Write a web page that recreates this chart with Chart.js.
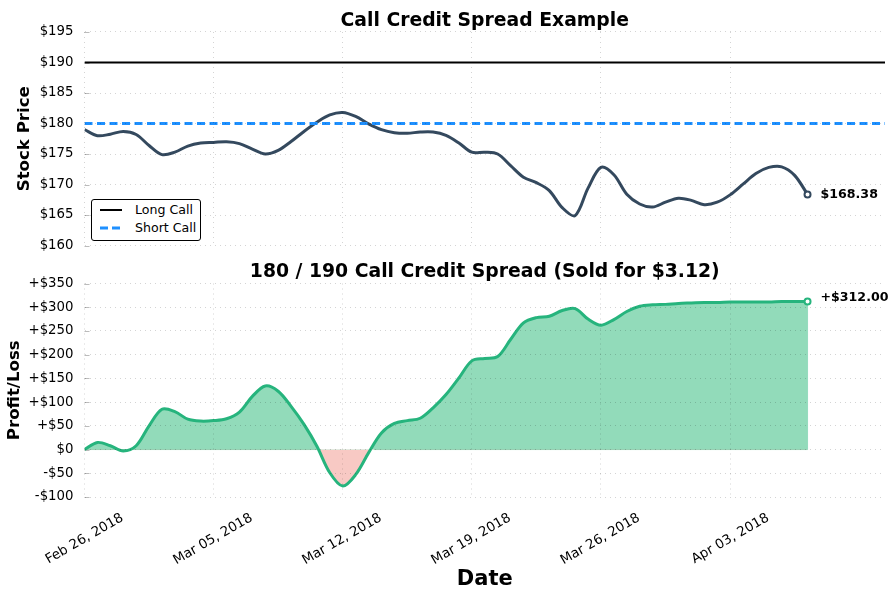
<!DOCTYPE html>
<html lang="en">
<head>
  <meta charset="UTF-8">
  <title>Call Credit Spread Example</title>
  <script src="https://cdn.jsdelivr.net/npm/chart.js"></script>
  <style>
    html, body { margin: 0; padding: 0; background: #fff; }
    #wrap { position: relative; width: 895px; height: 600px; overflow: hidden; font-family: "DejaVu Sans", sans-serif; }
    canvas { position: absolute; left: 0; }
    #legend { position: absolute; left: 90.5px; top: 198.5px; width: 108px; height: 40px; background: #fff; border: 1px solid #000; border-radius: 3px; font-size: 12.6px; color: #000; }
    #legend div { position: absolute; left: 43.5px; line-height: 14px; white-space: nowrap; }
    #legend svg { position: absolute; left: 8px; width: 24px; height: 4px; }
  </style>
</head>
<body>
<div id="wrap">
  <canvas id="priceChart" width="895" height="258" style="top:0"></canvas>
  <canvas id="pnlChart" width="895" height="342" style="top:258px"></canvas>
  <!-- legend sits inside the top plot -->
  <div id="legend">
    <svg style="top:8px"><line x1="0" y1="2" x2="22" y2="2" stroke="#000" stroke-width="2"/></svg>
    <div style="top:3px">Long Call</div>
    <svg style="top:26px"><line x1="0" y1="2" x2="20" y2="2" stroke="#1e90ff" stroke-width="3" stroke-dasharray="8 4"/></svg>
    <div style="top:21px">Short Call</div>
  </div>
</div>

<script>
  // x = trading day number, every half day
  const days = [0,0.5,1,1.5,2,2.5,3,3.5,4,4.5,5,5.5,6,6.5,7,7.5,8,8.5,9,9.5,10,10.5,11,11.5,12,12.5,13,13.5,14,14.5,15,15.5,16,16.5,17,17.5,18,18.5,19,19.5,20,20.5,21,21.5,22,22.5,23,23.5,24,24.5,25,25.5,26,26.5,27,27.5,28];
  const stockPrice = [179,178,178.25,178.7,178.2,176.4,174.9,175.3,176.3,176.8,176.9,177,176.7,175.8,175,175.6,177.05,178.7,180.2,181.4,181.8,181.15,179.95,179,178.5,178.4,178.6,178.6,178.05,176.8,175.3,175.3,175,173.1,171.2,170.3,169,166.2,164.9,169.4,172.8,171.6,168.4,166.8,166.3,167.1,167.75,167.4,166.7,167.1,168.3,170.05,171.8,172.8,172.9,171.5,168.38];
  const profitLoss = [0,15,8,-3,8,50,85,80,64,60,61,65,79,112,134,123,91,53,7,-49,-77,-53,-7,35,55,61,66,88,116,151,187,192,196,232,267,278,281,293,297,275,262,274,291,302,305,306,308,309,310,310,311,311,311,311,312,312,312];

  const strikeDays = [0, 31];
  const longCall = [190, 190];
  const shortCall = [180, 180];

  // thin edge of the green area, with a gap where the area turns red
  const edgeDays = [0, 9.1, 9.1, 11.2, 28, 28];
  const edgeValues = [0, 0, null, 0, 0, 312];

  const tickDays = [0, 5, 10, 15, 20, 25];
  const tickDates = ['Feb 26, 2018', 'Mar 05, 2018', 'Mar 12, 2018', 'Mar 19, 2018', 'Mar 26, 2018', 'Apr 03, 2018'];
  const priceTicks = [160, 165, 170, 175, 180, 185, 190, 195];
  const pnlTicks = [-100, -50, 0, 50, 100, 150, 200, 250, 300, 350];

  const FONT = '"DejaVu Sans", sans-serif';
  const GREEN = '#26b47d';
  const SLATE = '#34495e';
  const GRID = 'rgba(0,0,0,0.17)';

  Chart.defaults.font.family = FONT;
  Chart.defaults.color = '#000';

  function points(xs, ys) {
    return xs.map((x, i) => ({ x: x, y: ys[i] }));
  }

  function fmtPnl(v) {
    if (v === 0) return '$0';
    return (v > 0 ? '+$' : '-$') + Math.abs(v);
  }

  // keep label overhang from pushing the plot area around
  function noOverhang(s) {
    s.paddingLeft = s.paddingRight = s.paddingTop = s.paddingBottom = 0;
  }

  // short tick marks just inside the left edge, and the end-of-line label
  const extras = {
    id: 'extras',
    beforeDatasetsDraw(chart) {
      const c = chart.ctx, y = chart.scales.y, left = chart.chartArea.left;
      c.save();
      c.strokeStyle = '#bbb';
      c.lineWidth = 1;
      y.ticks.forEach(t => {
        const py = Math.round(y.getPixelForValue(t.value)) + 0.5;
        c.beginPath();
        c.moveTo(left, py);
        c.lineTo(left + 5, py);
        c.stroke();
      });
      c.restore();
    },
    afterDraw(chart, args, opts) {
      const c = chart.ctx, y = chart.scales.y;
      const px = chart.scales.x.getPixelForValue(opts.x);
      c.save();
      c.fillStyle = '#000';
      c.font = 'bold 12.6px ' + FONT;
      c.textBaseline = 'middle';
      c.fillText(opts.text, px + 13, y.getPixelForValue(opts.y) + opts.dy);
      c.restore();
    }
  };

  function xScale(withLabels) {
    return {
      type: 'linear',
      min: 0,
      max: 31,
      afterBuildTicks: s => { s.ticks = tickDays.map(v => ({ value: v })); },
      grid: { color: GRID, drawTicks: false, z: 1 },
      border: { display: false, dash: [1, 4] },
      title: withLabels
        ? { display: true, text: 'Date', font: { size: 21, weight: 'bold' }, padding: { top: 0, bottom: 8 } }
        : { display: false },
      ticks: {
        display: withLabels,
        autoSkip: false,
        minRotation: 30,
        maxRotation: 30,
        labelOffset: 38,
        padding: 13,
        font: { size: 13.4 },
        callback: v => tickDates[tickDays.indexOf(v)]
      },
      afterFit: s => { s.height = withLabels ? 103 : 0; noOverhang(s); }
    };
  }

  function yScale(min, max, ticks, fmt, label, titleTop) {
    return {
      min: min,
      max: max,
      afterBuildTicks: s => { s.ticks = ticks.map(v => ({ value: v })); },
      afterFit: s => { s.width = 84.5; noOverhang(s); },
      grid: { color: GRID, drawTicks: false, z: 1 },
      border: { display: false, dash: [1, 4] },
      title: { display: true, text: label, font: { size: 16.6, weight: 'bold' }, padding: { top: titleTop, bottom: 0 } },
      ticks: { autoSkip: false, padding: 11, font: { size: 13.3 }, callback: fmt }
    };
  }

  function titleOpts(text, size, padTop, padBottom) {
    return { display: true, text: text, fullSize: false, font: { size: size, weight: 'bold' }, padding: { top: padTop, bottom: padBottom } };
  }

  new Chart(document.getElementById('priceChart'), {
    type: 'line',
    data: {
      datasets: [
        { label: 'Long Call', data: points(strikeDays, longCall), borderColor: '#000', borderWidth: 2, pointRadius: 0 },
        { label: 'Short Call', data: points(strikeDays, shortCall), borderColor: '#1e90ff', borderWidth: 3, borderDash: [8, 4.5], pointRadius: 0 },
        {
          label: 'Stock Price',
          data: points(days, stockPrice),
          borderColor: SLATE,
          borderWidth: 3,
          tension: 0.33,
          pointRadius: c => c.dataIndex === days.length - 1 ? 3 : 0,
          pointBorderWidth: 2,
          pointBorderColor: SLATE,
          pointBackgroundColor: '#fff'
        }
      ]
    },
    options: {
      responsive: false,
      animation: false,
      layout: { autoPadding: false, padding: { top: 2.4, right: 10, left: 0, bottom: 12.5 } },
      plugins: {
        legend: { display: false },
        tooltip: { enabled: false },
        title: titleOpts('Call Credit Spread Example', 18.8, 7, 0.04),
        extras: { x: 28, y: 168.38, dy: 0, text: '$168.38' }
      },
      scales: { x: xScale(false), y: yScale(160, 195, priceTicks, v => '$' + v, 'Stock Price', 15) }
    },
    plugins: [extras]
  });

  new Chart(document.getElementById('pnlChart'), {
    type: 'line',
    data: {
      datasets: [
        {
          label: 'Profit/Loss',
          data: points(days, profitLoss),
          order: 1,
          borderColor: GREEN,
          borderWidth: 3,
          tension: 0.33,
          fill: { target: { value: 0 }, above: 'rgba(37,183,117,0.5)', below: 'rgba(231,76,60,0.3)' },
          pointRadius: c => c.dataIndex === days.length - 1 ? 3 : 0,
          pointBorderWidth: 2,
          pointBorderColor: GREEN,
          pointBackgroundColor: '#fff'
        },
        {
          label: 'Area edge',
          data: points(edgeDays, edgeValues),
          order: 2,
          borderColor: 'rgba(38,180,125,0.45)',
          borderWidth: 1,
          pointRadius: 0
        }
      ]
    },
    options: {
      responsive: false,
      animation: false,
      layout: { autoPadding: false, padding: { top: 0, right: 10, left: 0, bottom: 0 } },
      plugins: {
        legend: { display: false },
        tooltip: { enabled: false },
        title: titleOpts('180 / 190 Call Credit Spread (Sold for $3.12)', 18.8, 2.9, 0.04),
        extras: { x: 28, y: 312, dy: -4, text: '+$312.00' }
      },
      scales: { x: xScale(true), y: yScale(-100, 350, pnlTicks, fmtPnl, 'Profit/Loss', 5) }
    },
    plugins: [extras]
  });
</script>
</body>
</html>
